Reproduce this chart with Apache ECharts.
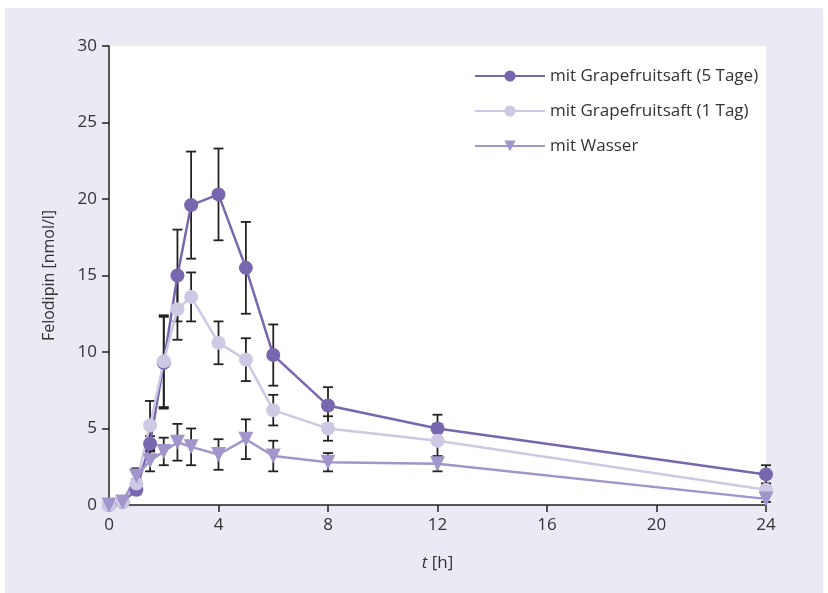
<!DOCTYPE html>
<html>
<head>
<meta charset="utf-8">
<script src="https://cdn.jsdelivr.net/npm/echarts@6/dist/echarts.min.js"></script>
<style>
  html, body { margin: 0; padding: 0; background: #fff; }
  #container { width: 828px; height: 593px; }
</style>
</head>
<body>
<div id="container"></div>
<script>
// time points [h]
const times = [0, 0.5, 1, 1.5, 2, 2.5, 3, 4, 5, 6, 8, 12, 24];
const xTicks = [0, 4, 8, 12, 16, 20, 24];
const yTicks = [0, 5, 10, 15, 20, 25, 30];

const names = ['mit Grapefruitsaft (5 Tage)', 'mit Grapefruitsaft (1 Tag)', 'mit Wasser'];

// mean values
const tage5 = [0, 0.2, 1.0, 4.0, 9.3, 15.0, 19.6, 20.3, 15.5, 9.8, 6.5, 5.0, 2.0];
const tag1 = [0, 0.2, 1.4, 5.2, 9.4, 12.8, 13.6, 10.6, 9.5, 6.2, 5.0, 4.2, 1.0];
const wasser = [0, 0.2, 1.9, 2.9, 3.5, 4.1, 3.8, 3.3, 4.3, 3.2, 2.8, 2.7, 0.4];

// half length of error bar
const tage5Err = [0, 0, 0.3, 0.5, 3.0, 3.0, 3.5, 3.0, 3.0, 2.0, 1.2, 0.9, 0.6];
const tag1Err = [0, 0, 0.3, 1.6, 3.0, 2.0, 1.6, 1.4, 1.4, 1.0, 0.8, 1.1, 0.4];
const wasserErr = [0, 0, 0.5, 0.7, 0.9, 1.2, 1.2, 1.0, 1.3, 1.0, 0.6, 0.5, 0.2];

const colors = ['#7866ae', '#cdc8e3', '#a195cc'];

let dom = document.getElementById('container');
let myChart = echarts.init(dom);

function lineSeries(name, vals, color, symbol) {
  return {
    name: name,
    type: 'line',
    data: times.map((t, i) => [t, vals[i]]),
    symbol: symbol,
    symbolSize: symbol === 'circle' ? 14 : 15,
    symbolRotate: symbol === 'triangle' ? 180 : 0,
    lineStyle: { color: color, width: 2.5 },
    itemStyle: { color: color },
    z: 3,
    animation: false
  };
}

function errSeries(vals, errs) {
  return {
    type: 'custom',
    silent: true,
    z: 2,
    data: times.map((t, i) => [t, vals[i] - errs[i], vals[i] + errs[i], errs[i]])
      .filter(d => d[3] > 0),
    renderItem: function (params, api) {
      let lo = api.coord([api.value(0), api.value(1)]);
      let hi = api.coord([api.value(0), api.value(2)]);
      let w = 5;
      let st = { stroke: '#222', lineWidth: 1.8 };
      return {
        type: 'group',
        children: [
          { type: 'line', shape: { x1: lo[0], y1: lo[1], x2: hi[0], y2: hi[1] }, style: st },
          { type: 'line', shape: { x1: lo[0] - w, y1: lo[1], x2: lo[0] + w, y2: lo[1] }, style: st },
          { type: 'line', shape: { x1: hi[0] - w, y1: hi[1], x2: hi[0] + w, y2: hi[1] }, style: st }
        ]
      };
    },
    encode: { x: 0, y: [1, 2] },
    animation: false
  };
}

let option = {
  backgroundColor: '#fff',
  textStyle: { fontFamily: 'Open Sans' },
  graphic: [{
    type: 'rect',
    shape: { x: 5, y: 8, width: 818, height: 585 },
    style: { fill: '#ebe9f4' },
    z: -10,
    silent: true
  }],
  grid: {
    left: 109,
    top: 46,
    right: 62,
    bottom: 88,
    show: true,
    backgroundColor: '#fff',
    borderWidth: 0
  },
  legend: {
    orient: 'vertical',
    left: 469,
    top: 61,
    itemWidth: 70,
    itemHeight: 14,
    itemGap: 15,
    data: names,
    textStyle: { fontSize: 17, lineHeight: 20, color: '#333', fontFamily: 'Open Sans' }
  },
  xAxis: {
    type: 'value',
    min: xTicks[0],
    max: xTicks[xTicks.length - 1],
    interval: 4,
    name: '{i|t} [h]',
    nameLocation: 'middle',
    nameGap: 50,
    nameTextStyle: {
      fontSize: 17,
      color: '#333',
      rich: { i: { fontStyle: 'italic', fontSize: 17, color: '#333' } }
    },
    axisLine: { lineStyle: { color: '#222', width: 1.5 } },
    axisTick: { show: true, length: 7, inside: false, lineStyle: { color: '#222', width: 1.5 } },
    axisLabel: { fontSize: 17, color: '#333', margin: 12 },
    splitLine: { show: false }
  },
  yAxis: {
    type: 'value',
    min: yTicks[0],
    max: yTicks[yTicks.length - 1],
    interval: 5,
    name: 'Felodipin [nmol/l]',
    nameLocation: 'middle',
    nameGap: 52,
    nameTextStyle: { fontSize: 16, color: '#333' },
    axisLine: { show: true, lineStyle: { color: '#222', width: 1.5 } },
    axisTick: { show: true, length: 7, lineStyle: { color: '#222', width: 1.5 } },
    axisLabel: { fontSize: 17, color: '#333', margin: 12 },
    splitLine: { show: false }
  },
  series: [
    errSeries(tage5, tage5Err),
    errSeries(tag1, tag1Err),
    errSeries(wasser, wasserErr),
    lineSeries(names[0], tage5, colors[0], 'circle'),
    lineSeries(names[1], tag1, colors[1], 'circle'),
    lineSeries(names[2], wasser, colors[2], 'triangle')
  ]
};

myChart.setOption(option);
</script>
</body>
</html>
